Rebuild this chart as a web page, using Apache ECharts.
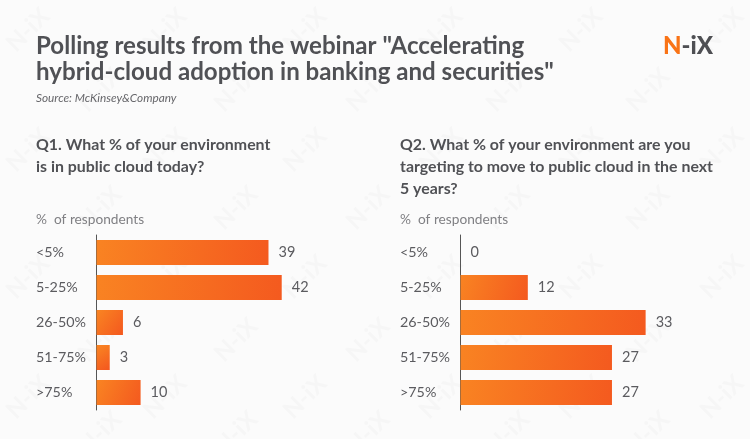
<!DOCTYPE html>
<html><head><meta charset="utf-8">
<style>html,body{margin:0;padding:0;background:#fbfbfb}#c{width:750px;height:439px}</style>
<script src="https://cdn.jsdelivr.net/npm/echarts@6/dist/echarts.min.js"></script>
</head><body><div id="c"></div>
<script>
const categories = ['<5%','5-25%','26-50%','51-75%','>75%'];
const q1Values = [39,42,6,3,10];
const q2Values = [0,12,33,27,27];
const mainTitle = 'Polling results from the webinar "Accelerating\nhybrid-cloud adoption in banking and securities"';
const sourceText = 'Source: McKinsey&Company';
const q1Title = 'Q1. What % of your environment\nis in public cloud today?';
const q2Title = 'Q2. What % of your environment are you\ntargeting to move to public cloud in the next\n5 years?';
const unitLabel = '%  of respondents';
const watermarkRowsA = [30,150,277,397];
const watermarkRowsB = [90,208,340,433];
const watermarkColsA = [28,165,305,441,581,722];
const watermarkColsB = [100,236,368,508,648];

const font = 'Lato';
const chart = echarts.init(document.getElementById('c'));
const grad = new echarts.graphic.LinearGradient(0,0.1,1,0.9,[{offset:0,color:'#f98322'},{offset:1,color:'#f45a1f'}]);
function wm(x,y){return {type:'text',x:x,y:y,rotation:Math.PI/4,z:-1,silent:true,
  style:{text:'N-iX',font:'bold 24px '+font,fill:'#f6f6f6',align:'center',verticalAlign:'middle'}};}
const marks=[];
watermarkRowsA.forEach(y=>watermarkColsA.forEach(x=>marks.push(wm(x,y))));
watermarkRowsB.forEach(y=>watermarkColsB.forEach(x=>marks.push(wm(x,y))));
function t(text,left,top,size,weight,color,lh,style){return {text:text,left:left,top:top,padding:0,
  textStyle:{fontFamily:font,fontSize:size,fontWeight:weight,color:color,lineHeight:lh,fontStyle:style||'normal'}};}
function yAxis(i,margin){return {type:'category',gridIndex:i,inverse:true,data:categories,
  axisLine:{show:true,lineStyle:{color:'#555',width:1}},axisTick:{show:false},
  axisLabel:{align:'left',margin:margin,fontFamily:font,fontSize:14.3,color:'#5b5b5f'}};}
function xAxis(i,max){return {type:'value',gridIndex:i,min:0,max:max,show:false};}
function bars(i,data){return {type:'bar',xAxisIndex:i,yAxisIndex:i,data:data,barWidth:25,
  itemStyle:{color:grad},
  label:{show:true,position:'right',distance:10,fontFamily:font,fontSize:14.5,color:'#5b5b5f'}};}
chart.setOption({
  animation:false,
  backgroundColor:'#fbfbfb',
  graphic:marks,
  title:[
    t(mainTitle,36,33,24.1,700,'#505155',26),
    t(sourceText,36,91,11.8,400,'#66666a',14,'italic'),
    t(q1Title,36,134,15.9,700,'#505155',22),
    t(q2Title,400,134,15.9,700,'#505155',22),
    t(unitLabel,36,212,13.7,400,'#808084',16),
    t(unitLabel,400,212,13.7,400,'#808084',16),
    {text:'{a|N}{b|-iX}',left:663,top:34,padding:0,textStyle:{rich:{
      a:{fontFamily:font,fontSize:24,fontWeight:900,color:'#f97316'},
      b:{fontFamily:font,fontSize:24,fontWeight:900,color:'#4e4f53'}}}}
  ],
  grid:[
    {left:96.5,top:235,width:220.5,height:175},
    {left:460.5,top:235,width:224.4,height:175}
  ],
  xAxis:[xAxis(0,50),xAxis(1,40)],
  yAxis:[yAxis(0,60.5),yAxis(1,60.5)],
  series:[bars(0,q1Values),bars(1,q2Values)]
});
</script></body></html>
